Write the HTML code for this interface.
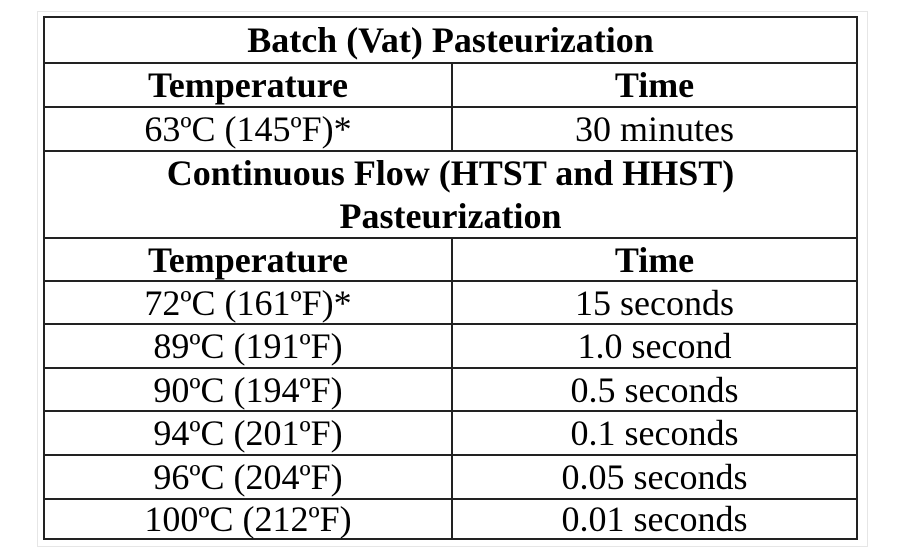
<!DOCTYPE html>
<html><head><meta charset="utf-8"><style>
body{margin:0;width:900px;height:550px;background:#fff;position:relative;overflow:hidden;font-family:"Liberation Serif",serif;color:#000}
.frame{position:absolute;left:37px;top:11px;width:831px;height:536px;border:1px solid #e6e6e6;box-sizing:border-box}
.tbl{position:absolute;left:43px;top:16px;width:815px;height:524px;border:2px solid #222;box-sizing:border-box}
.r{position:absolute;left:0;width:100%;box-sizing:border-box;border-top:2px solid #222}
.c{position:absolute;top:0;height:100%;display:flex;align-items:center;justify-content:center;font-size:36px;line-height:1;white-space:nowrap}
.b{font-weight:bold}
</style></head><body>
<div class="frame"></div>
<div class="tbl" id="t"></div>
<script>
const rows=[
 {y:0,h:44,full:"Batch (Vat) Pasteurization",b:true},
 {y:44,h:44,a:"Temperature",t:"Time",b:true},
 {y:88,h:44,a:"63ºC (145ºF)*",t:"30 minutes"},
 {y:132,h:87,full:"Continuous Flow (HTST and HHST)<br>Pasteurization",b:true},
 {y:219,h:43,a:"Temperature",t:"Time",b:true},
 {y:262,h:43,a:"72ºC (161ºF)*",t:"15 seconds"},
 {y:305,h:44,a:"89ºC (191ºF)",t:"1.0 second"},
 {y:349,h:43,a:"90ºC (194ºF)",t:"0.5 seconds"},
 {y:392,h:44,a:"94ºC (201ºF)",t:"0.1 seconds"},
 {y:436,h:44,a:"96ºC (204ºF)",t:"0.05 seconds"},
 {y:480,h:40,a:"100ºC (212ºF)",t:"0.01 seconds"}
];
const t=document.getElementById('t');
rows.forEach((r,i)=>{
 const d=document.createElement('div');
 
 
 d.className='r';d.style.top=r.y+'px';d.style.height=r.h+'px';
 if(i===0)d.style.borderTop='none';
 if(r.full){
  const c=document.createElement('div');
  
  
  c.className='c b';c.style.left='0';c.style.width='100%';c.style.textAlign='center';c.style.lineHeight='43px';
  c.innerHTML=r.full;d.appendChild(c);
 }else{
  const a=document.createElement('div');
  
  
  a.className='c'+(r.b?' b':'');a.style.left='0';a.style.width='406px';a.style.borderRight='2px solid #222';a.textContent=r.a;
  const b=document.createElement('div');
  
  
  b.className='c'+(r.b?' b':'');b.style.left='408px';b.style.width='403px';b.textContent=r.t;
  d.appendChild(a);d.appendChild(b);
 }
 t.appendChild(d);
});
</script>
</body></html>
